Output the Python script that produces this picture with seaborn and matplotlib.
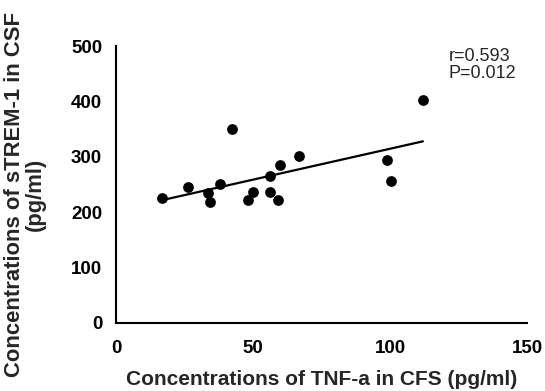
import numpy as np
import pandas as pd
import matplotlib
matplotlib.use("Agg")
import matplotlib.pyplot as plt
import seaborn as sns

# values
tnf_a = [16.7, 26.1, 33.4, 34.1, 38.0, 42.3, 48.1, 50.1, 56.3, 56.3,
         59.2, 60.0, 66.9, 98.9, 100.2, 112.0]
strem1 = [225, 246, 235, 219, 251, 351, 222, 236, 266, 237,
          222, 286, 301, 295, 257, 403]

x_ticks = [0, 50, 100, 150]
y_ticks = [0, 100, 200, 300, 400, 500]
stats_text = "r=0.593\nP=0.012"

df = pd.DataFrame({"tnf": tnf_a, "strem": strem1})

sns.set_style("white")
plt.rcParams["font.family"] = ["Liberation Sans", "DejaVu Sans"]

fig = plt.figure(figsize=(5.45, 3.91), dpi=100)
ax = fig.add_axes([0.213, 0.174, 0.754, 0.708])

sns.regplot(data=df, x="tnf", y="strem", ax=ax, ci=None, color="black",
            scatter_kws={"s": 60, "alpha": 1, "linewidths": 0},
            line_kws={"linewidth": 1.6})

ax.set_xlim(0, 150)
ax.set_ylim(0, 500)
ax.set_xticks(x_ticks)
ax.set_yticks(y_ticks)
ax.tick_params(axis="both", direction="out", length=5, width=1.5,
               labelsize=13.5, colors="black")
ax.tick_params(axis="x", pad=7)
ax.tick_params(axis="y", pad=5)
for lbl in ax.get_xticklabels() + ax.get_yticklabels():
    lbl.set_fontweight("bold")

sns.despine(ax=ax)
for side in ["left", "bottom"]:
    ax.spines[side].set_linewidth(1.5)
    ax.spines[side].set_color("black")

ax.set_xlabel("Concentrations of TNF-a in CFS (pg/ml)", fontsize=15,
              fontweight="bold")
ax.set_ylabel("Concentrations of sTREM-1 in CSF\n(pg/ml)", fontsize=15.8,
              fontweight="bold", linespacing=0.95)
ax.xaxis.set_label_coords(0.5, -0.17)
ax.yaxis.set_label_coords(-0.172, 0.463)

ax.text(121.5, 466, stats_text, fontsize=13, va="center", ha="left",
        linespacing=1.0)

fig.savefig("out.png", dpi=100)
